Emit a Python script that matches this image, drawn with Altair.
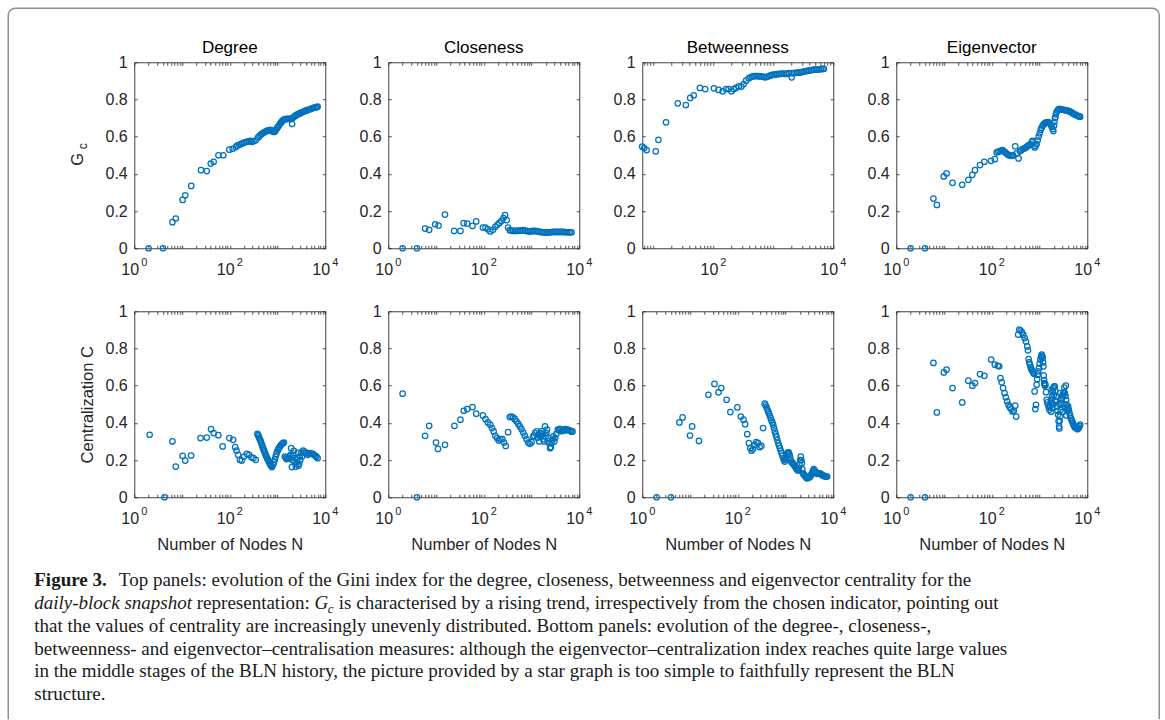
import math
import altair as alt
import pandas as pd

BLUE = "#0072BD"
AX = "#262626"
SANS = "Liberation Sans"
SERIF = "Liberation Serif"
W, H = 191, 186

# ---------------- data ----------------
# Top row: Gini index G_c versus number of nodes N
deg_gini_N = [2, 4, 6.3, 7.4, 10.3, 11.7, 15.6, 25, 33, 40, 46, 58, 73, 98, 115, 135, 145, 158, 171, 185, 200,
              217, 235, 255, 275, 290, 313, 350, 392, 420, 445, 475, 506, 540, 574, 610, 653, 700, 741, 790,
              842, 880, 927, 970, 1020, 1070, 1122, 1180, 1236, 1300, 1360, 1450, 1545, 1650, 1755, 1870,
              1995, 2026, 2130, 2265, 2420, 2575, 2750, 2925, 3120, 3325, 3550, 3777, 4030, 4295, 4580,
              4875, 5200, 5545, 5900, 6295, 6600, 6920]
deg_gini = [0, 0, 0.14, 0.16, 0.26, 0.285, 0.335, 0.42, 0.415, 0.455, 0.465, 0.50, 0.50, 0.53, 0.535, 0.545,
            0.553, 0.556, 0.56, 0.564, 0.568, 0.571, 0.573, 0.576, 0.578, 0.572, 0.575, 0.58, 0.596, 0.603,
            0.61, 0.616, 0.621, 0.625, 0.629, 0.632, 0.634, 0.636, 0.634, 0.628, 0.625, 0.628, 0.636, 0.645,
            0.652, 0.66, 0.668, 0.675, 0.682, 0.687, 0.691, 0.694, 0.695, 0.696, 0.696, 0.696, 0.696, 0.668,
            0.703, 0.709, 0.714, 0.718, 0.722, 0.725, 0.729, 0.732, 0.735, 0.738, 0.741, 0.743, 0.746, 0.748,
            0.751, 0.754, 0.756, 0.757, 0.759, 0.761]

clo_gini_N = [2, 4, 5.9, 7.2, 9.6, 11.3, 15.4, 24, 32.5, 38, 45, 58, 69.5, 96, 109, 122, 137, 156, 175, 193,
              212, 234, 258, 279, 303, 323, 351, 380, 412, 448, 485, 525, 570, 620, 670, 725, 787, 855, 925,
              1005, 1088, 1180, 1280, 1390, 1503, 1630, 1770, 1920, 2080, 2260, 2445, 2650, 2875, 3120, 3380,
              3670, 3975, 4310, 4675, 5070, 5495, 5960, 6460, 6900]
clo_gini = [0, 0, 0.106, 0.099, 0.129, 0.122, 0.181, 0.093, 0.093, 0.135, 0.133, 0.12, 0.144, 0.111, 0.111,
            0.102, 0.09, 0.099, 0.115, 0.126, 0.136, 0.147, 0.162, 0.178, 0.151, 0.111, 0.097, 0.095, 0.093,
            0.094, 0.093, 0.095, 0.094, 0.096, 0.097, 0.095, 0.093, 0.091, 0.09, 0.092, 0.093, 0.093, 0.092,
            0.09, 0.088, 0.087, 0.086, 0.085, 0.084, 0.085, 0.086, 0.087, 0.088, 0.088, 0.088, 0.088, 0.088,
            0.088, 0.088, 0.087, 0.086, 0.086, 0.086, 0.086]

bet_gini_N = [6.5, 7.0, 7.7, 10.9, 12.1, 16.2, 25.4, 34.7, 41, 47, 59.5, 73, 102, 122, 143, 162, 180, 200, 218,
              239, 265, 294, 321, 352, 389, 415, 443, 470, 504, 540, 573, 610, 652, 695, 741, 790, 843, 900,
              959, 1020, 1091, 1165, 1241, 1325, 1412, 1505, 1604, 1710, 1825, 2023, 2075, 2210, 2360, 2520,
              2685, 2865, 3055, 3260, 3475, 3710, 3955, 4220, 4500, 4800, 5115, 5450, 5810, 6200, 6610, 7000]
bet_gini = [0.546, 0.539, 0.528, 0.521, 0.583, 0.677, 0.779, 0.77, 0.808, 0.822, 0.862, 0.856, 0.86, 0.851,
            0.844, 0.856, 0.856, 0.844, 0.856, 0.862, 0.871, 0.869, 0.883, 0.901, 0.914, 0.919, 0.923, 0.925,
            0.926, 0.926, 0.925, 0.924, 0.923, 0.921, 0.919, 0.922, 0.926, 0.929, 0.932, 0.933, 0.934, 0.936,
            0.937, 0.938, 0.939, 0.938, 0.937, 0.939, 0.941, 0.919, 0.941, 0.942, 0.943, 0.944, 0.944, 0.946,
            0.948, 0.95, 0.952, 0.954, 0.955, 0.957, 0.959, 0.96, 0.96, 0.961, 0.962, 0.963, 0.964, 0.965]

eig_gini_N = [2, 4, 6.0, 7.1, 9.9, 11.3, 15.1, 24.1, 32.3, 39.2, 44.6, 56.8, 70.1, 96.8, 116, 127, 137, 147,
              158, 168, 180, 191, 204, 217, 232, 247, 264, 281, 310, 331, 364, 389, 415, 442, 472, 503, 537,
              573, 611, 652, 685, 718, 791, 830, 871, 915, 960, 1008, 1058, 1110, 1166, 1225, 1285, 1350,
              1416, 1488, 1560, 1640, 1719, 1805, 1894, 1950, 2019, 2060, 2100, 2153, 2200, 2260, 2373, 2490,
              2615, 2790, 2977, 3180, 3388, 3615, 3856, 4115, 4388, 4680, 4994, 5330, 5683, 6060, 6467, 6800,
              7124]
eig_gini = [0, 0, 0.267, 0.233, 0.386, 0.402, 0.352, 0.341, 0.368, 0.395, 0.42, 0.447, 0.465, 0.47, 0.479,
            0.515, 0.519, 0.521, 0.525, 0.528, 0.521, 0.515, 0.509, 0.503, 0.5, 0.497, 0.498, 0.499, 0.548,
            0.51, 0.483, 0.521, 0.527, 0.533, 0.536, 0.539, 0.545, 0.551, 0.555, 0.56, 0.57, 0.578, 0.542,
            0.55, 0.56, 0.58, 0.6, 0.618, 0.636, 0.648, 0.659, 0.666, 0.671, 0.675, 0.677, 0.678, 0.677,
            0.672, 0.664, 0.652, 0.641, 0.63, 0.659, 0.68, 0.7, 0.704, 0.72, 0.73, 0.74, 0.746, 0.749, 0.747,
            0.745, 0.744, 0.743, 0.741, 0.74, 0.737, 0.734, 0.73, 0.725, 0.721, 0.718, 0.714, 0.711, 0.709,
            0.707]

# Bottom row: centralization C versus number of nodes N
deg_cent_N = [2.1, 4.3, 6.3, 7.4, 10.3, 11.7, 15.5, 24.4, 33, 40.6, 46, 57.7, 71, 98, 118, 130, 139, 150, 163,
              179, 200, 228, 255, 285, 313, 350, 379, 392, 404, 417, 431, 445, 459, 474, 490, 505, 521, 538,
              556, 574, 593, 612, 632, 652, 673, 695, 718, 742, 766, 805, 843, 878, 913, 950, 988, 1028, 1070,
              1115, 1160, 1207, 1256, 1308, 1361, 1427, 1490, 1545, 1635, 1727, 1800, 1871, 1932, 1995, 2050,
              2128, 2200, 2266, 2350, 2417, 2500, 2576, 2650, 2747, 2850, 2926, 3000, 3120, 3300, 3435, 3600,
              3841, 4000, 4293, 4500, 4878, 5200, 5543, 5800, 6196, 6500, 6929]
deg_cent = [0.336, 0, 0.30, 0.165, 0.223, 0.197, 0.224, 0.318, 0.321, 0.366, 0.345, 0.334, 0.273, 0.318, 0.309,
            0.269, 0.251, 0.228, 0.201, 0.197, 0.219, 0.233, 0.228, 0.215, 0.21, 0.201, 0.341, 0.334, 0.327,
            0.318, 0.309, 0.3, 0.291, 0.28, 0.269, 0.26, 0.251, 0.242, 0.233, 0.224, 0.215, 0.208, 0.201,
            0.194, 0.187, 0.18, 0.174, 0.168, 0.162, 0.175, 0.187, 0.203, 0.219, 0.233, 0.246, 0.256, 0.264,
            0.271, 0.278, 0.283, 0.287, 0.291, 0.294, 0.219, 0.212, 0.205, 0.208, 0.21, 0.22, 0.228, 0.264,
            0.162, 0.2, 0.228, 0.25, 0.192, 0.21, 0.165, 0.18, 0.201, 0.24, 0.169, 0.18, 0.219, 0.2, 0.237,
            0.22, 0.251, 0.245, 0.237, 0.24, 0.228, 0.235, 0.237, 0.235, 0.232, 0.228, 0.223, 0.218, 0.21]

clo_cent_N = [2, 4, 5.9, 7.2, 10, 11, 15.4, 24.3, 32.5, 38.2, 44.9, 58.2, 69.5, 96, 109, 122, 137, 149, 161, 175,
              190, 206, 223, 246, 266, 289, 324, 351, 380, 412, 447, 485, 526, 570, 618, 670, 726, 788, 854,
              926, 1004, 1089, 1130, 1181, 1280, 1330, 1388, 1450, 1505, 1560, 1632, 1700, 1769, 1850, 1918,
              1982, 2050, 2115, 2180, 2256, 2350, 2446, 2550, 2652, 2750, 2876, 3000, 3118, 3300, 3550, 3750,
              3975, 4200, 4455, 4800, 5070, 5400, 5770, 6200, 6565, 6900, 7230]
clo_cent = [0.557, 0, 0.33, 0.384, 0.294, 0.26, 0.282, 0.384, 0.417, 0.465, 0.474, 0.485, 0.449, 0.44, 0.42,
            0.402, 0.39, 0.372, 0.354, 0.33, 0.318, 0.305, 0.312, 0.312, 0.294, 0.276, 0.35, 0.431, 0.434,
            0.429, 0.42, 0.408, 0.395, 0.381, 0.366, 0.348, 0.33, 0.312, 0.294, 0.287, 0.296, 0.327, 0.33,
            0.345, 0.354, 0.32, 0.336, 0.3, 0.345, 0.33, 0.354, 0.34, 0.312, 0.3, 0.381, 0.327, 0.345, 0.363,
            0.3, 0.318, 0.29, 0.264, 0.27, 0.291, 0.31, 0.327, 0.3, 0.318, 0.34, 0.363, 0.36, 0.368, 0.355,
            0.359, 0.36, 0.366, 0.36, 0.363, 0.36, 0.357, 0.352, 0.354]

bet_cent_N = [2, 4, 6, 7, 10, 11.1, 15.4, 24.3, 32.5, 39.5, 45, 58.5, 70, 98, 116, 132, 143, 158, 171, 183, 195,
              208, 226, 245, 266, 288, 312, 339, 368, 383, 399, 416, 433, 451, 469, 489, 509, 530, 552, 575,
              599, 624, 650, 677, 705, 734, 764, 796, 829, 863, 899, 930, 960, 990, 1025, 1060, 1094, 1130,
              1167, 1205, 1245, 1290, 1330, 1375, 1419, 1465, 1514, 1565, 1616, 1670, 1726, 1780, 1841, 1900,
              1964, 2030, 2098, 2150, 2203, 2250, 2312, 2390, 2467, 2550, 2633, 2720, 2810, 2930, 3049, 3180,
              3306, 3440, 3586, 3730, 3889, 4050, 4218, 4400, 4575, 4770, 4962, 5170, 5382, 5600, 5838, 6080,
              6332, 6600, 6868, 7150, 7449]
bet_cent = [0, 0, 0.402, 0.429, 0.332, 0.381, 0.303, 0.551, 0.609, 0.564, 0.587, 0.524, 0.458, 0.483, 0.434,
            0.417, 0.393, 0.339, 0.291, 0.264, 0.25, 0.259, 0.282, 0.296, 0.291, 0.269, 0.276, 0.372, 0.503,
            0.494, 0.485, 0.473, 0.461, 0.45, 0.438, 0.425, 0.413, 0.402, 0.39, 0.372, 0.354, 0.338, 0.323,
            0.307, 0.291, 0.277, 0.264, 0.25, 0.237, 0.223, 0.21, 0.2, 0.192, 0.205, 0.219, 0.225, 0.237,
            0.24, 0.241, 0.232, 0.219, 0.2, 0.189, 0.185, 0.183, 0.178, 0.174, 0.168, 0.162, 0.156, 0.151,
            0.147, 0.144, 0.155, 0.174, 0.2, 0.219, 0.2, 0.183, 0.15, 0.129, 0.124, 0.12, 0.115, 0.111, 0.106,
            0.102, 0.104, 0.106, 0.108, 0.111, 0.12, 0.129, 0.14, 0.151, 0.145, 0.138, 0.13, 0.126, 0.127,
            0.129, 0.128, 0.126, 0.123, 0.12, 0.117, 0.115, 0.113, 0.111, 0.111, 0.111]

eig_cent_N = [2, 4, 6, 7.1, 9.9, 11.3, 15.1, 24.1, 32.3, 39.2, 44.6, 56.8, 70, 97, 116, 134, 143, 152, 162, 173,
              185, 197, 210, 224, 239, 255, 272, 290, 310, 325, 358, 376, 401, 428, 457, 488, 520, 555, 573,
              592, 611, 631, 652, 673, 695, 718, 742, 766, 791, 817, 844, 871, 893, 915, 945, 976, 1008, 1042,
              1077, 1112, 1140, 1166, 1185, 1205, 1224, 1245, 1265, 1270, 1296, 1300, 1328, 1370, 1417, 1464,
              1512, 1560, 1612, 1665, 1719, 1750, 1775, 1800, 1833, 1850, 1893, 1950, 1955, 2000, 2020, 2085,
              2100, 2150, 2224, 2280, 2335, 2390, 2451, 2510, 2574, 2600, 2620, 2640, 2680, 2703, 2770, 2838,
              2908, 2979, 3075, 3100, 3177, 3200, 3280, 3300, 3388, 3450, 3500, 3550, 3613, 3650, 3700, 3795,
              3890, 3984, 4115, 4249, 4390, 4531, 4680, 4832, 4990, 5153, 5320, 5496, 5675, 5861, 6050, 6251,
              6455, 6666, 6880, 7109]
eig_cent = [0, 0, 0.722, 0.456, 0.671, 0.686, 0.587, 0.51, 0.627, 0.6, 0.614, 0.662, 0.653, 0.74, 0.713, 0.707,
            0.704, 0.641, 0.618, 0.587, 0.56, 0.537, 0.515, 0.497, 0.483, 0.474, 0.461, 0.465, 0.492, 0.434,
            0.874, 0.901, 0.896, 0.887, 0.874, 0.856, 0.838, 0.811, 0.79, 0.743, 0.725, 0.713, 0.7, 0.689,
            0.683, 0.677, 0.67, 0.664, 0.569, 0.474, 0.497, 0.605, 0.635, 0.659, 0.677, 0.695, 0.718, 0.74,
            0.755, 0.767, 0.76, 0.749, 0.725, 0.704, 0.655, 0.63, 0.614, 0.61, 0.61, 0.6, 0.605, 0.565, 0.524,
            0.51, 0.497, 0.485, 0.47, 0.49, 0.506, 0.46, 0.525, 0.58, 0.542, 0.48, 0.565, 0.5, 0.587, 0.55,
            0.595, 0.596, 0.52, 0.57, 0.542, 0.515, 0.488, 0.465, 0.443, 0.41, 0.381, 0.37, 0.5, 0.41, 0.56,
            0.434, 0.47, 0.506, 0.525, 0.542, 0.552, 0.46, 0.56, 0.5, 0.562, 0.59, 0.56, 0.48, 0.545, 0.6,
            0.524, 0.44, 0.5, 0.47, 0.48, 0.488, 0.47, 0.452, 0.438, 0.425, 0.415, 0.408, 0.398, 0.39, 0.383,
            0.377, 0.374, 0.372, 0.369, 0.366, 0.37, 0.375, 0.382, 0.39]

TITLES = ["Degree", "Closeness", "Betweenness", "Eigenvector"]
X_TITLE = "Number of Nodes N"
Y_TITLE_BOTTOM = "Centralization C"
Y_TITLE_TOP = ["G", "c"]
LABEL_N = [1, 100, 10000]
LABEL_EXP = ["0", "2", "4"]
Y_TICKS = [0, 0.2, 0.4, 0.6, 0.8, 1]
X_TICKS = [1, 2, 3, 4, 5, 6, 7, 8, 9, 10, 20, 30, 40, 50, 60, 70, 80, 90, 100, 200, 300, 400, 500, 600, 700,
           800, 900, 1000, 2000, 3000, 4000, 5000, 6000, 7000, 8000, 9000, 10000]

CAPTION_BOLD = "Figure 3."
CAPTION_L1 = ("Top panels: evolution of the Gini index for the degree, closeness, betweenness and "
              "eigenvector centrality for the")
CAPTION_L2 = ["daily-block snapshot", "representation:", "G", "c",
              "is characterised by a rising trend, irrespectively from the chosen indicator, pointing out"]
CAPTION_REST = [
    "that the values of centrality are increasingly unevenly distributed. Bottom panels: evolution of the degree-, closeness-,",
    "betweenness- and eigenvector\u2013centralisation measures: although the eigenvector\u2013centralization index reaches quite large values",
    "in the middle stages of the BLN history, the picture provided by a star graph is too simple to faithfully represent the BLN",
    "structure.",
]

# ---------------- layout helpers ----------------
ORIGIN_X, ORIGIN_Y = 133, 310      # top-left of bottom-left plot area on the page
CAP_SIZE = 19
CAP_X = 33 - ORIGIN_X
CAP_Y = 585 - ORIGIN_Y
CAP_STEP = 22.8
DUMMY = pd.DataFrame({"k": [0]})

# frame (open at the bottom edge of the picture)
FX0, FX1, FY0, FY1, FR = 7, 1158, 7, 719, 7


def inward():
    return {"expr": "-3"}


def caption_layers():
    F = CAP_SIZE
    lay = []

    def seg(text, x, line, size=F, style="normal", weight="normal", dy=0):
        return alt.Chart(DUMMY).mark_text(
            text=text, font=SERIF, fontSize=size, fontStyle=style, fontWeight=weight,
            align="left", baseline="alphabetic", color="#1a1a1a", dy=dy,
        ).encode(x=alt.value(CAP_X + x), y=alt.value(CAP_Y + line * CAP_STEP))

    lay.append(seg(CAPTION_BOLD, 0, 0, weight="bold"))
    lay.append(seg(CAPTION_L1, (3.833 + 0.62) * F, 0))
    offs = [0, 8.555, 14.748, 15.45, 16.03]
    lay.append(seg(CAPTION_L2[0], offs[0] * F, 1, style="italic"))
    lay.append(seg(CAPTION_L2[1], offs[1] * F, 1))
    lay.append(seg(CAPTION_L2[2], offs[2] * F, 1, style="italic"))
    lay.append(seg(CAPTION_L2[3], offs[3] * F, 1, size=F * 0.68, style="italic", dy=4))
    lay.append(seg(CAPTION_L2[4], offs[4] * F, 1))
    for i, t in enumerate(CAPTION_REST):
        lay.append(seg(t, 0, i + 2))

    w, h, r = FX1 - FX0, FY1 - FY0, FR
    arc = math.pi * r / 2
    dash = [(w - 2 * r) + arc + (h - r) - 1, w + 2, (h - r) - 1 + arc]
    border = alt.Chart(DUMMY).mark_rect(
        fillOpacity=0, stroke="#8f8f8f", strokeWidth=1.5, cornerRadiusTopLeft=r, cornerRadiusTopRight=r,
        strokeDash=dash,
    ).encode(x=alt.value(FX0 - ORIGIN_X), x2=alt.value(FX1 - ORIGIN_X),
             y=alt.value(FY0 - ORIGIN_Y), y2=alt.value(FY1 - ORIGIN_Y))
    lay.append(border)
    return lay


def gc_layers():
    g = alt.Chart(DUMMY).mark_text(text=Y_TITLE_TOP[0], font=SANS, fontSize=16.5, angle=270, color=AX,
                                   align="center", baseline="middle").encode(
        x=alt.value(-56), y=alt.value(97))
    c = alt.Chart(DUMMY).mark_text(text=Y_TITLE_TOP[1], font=SANS, fontSize=12, angle=270, color=AX,
                                   align="center", baseline="middle").encode(
        x=alt.value(-51), y=alt.value(84))
    return [g, c]


def panel(N, V, xmin=1, title=None, ytitle=None, xtitle=None, extra=()):
    df = pd.DataFrame({"N": N, "V": V})
    xs = alt.Scale(type="log", domain=[xmin, 10000])
    ys = alt.Scale(domain=[0, 1])
    xt = [t for t in X_TICKS if t >= xmin]
    common = dict(tickSize=inward(), tickColor=AX, tickWidth=0.8, domainColor=AX, domainWidth=0.8, grid=False)

    xaxis_kw = dict(values=xt, labels=False, **common)
    if xtitle:
        xaxis_kw.update(title=xtitle, titleFont=SANS, titleFontSize=16.5, titleFontWeight="normal",
                        titleColor=AX, titleX=W / 2, titleY=47, titleAlign="center", titleBaseline="middle")
    yaxis_kw = dict(values=Y_TICKS, format="~g", labelFont=SANS, labelFontSize=16, labelColor=AX,
                    labelPadding=10, **common)
    if ytitle:
        yaxis_kw.update(title=ytitle, titleFont=SANS, titleFontSize=16.5, titleFontWeight="normal",
                        titleColor=AX, titleAngle=270, titleX=-47, titleY=H / 2, titleAlign="center",
                        titleBaseline="middle")

    pts = alt.Chart(df).mark_point(filled=False, size=30, strokeWidth=1.25, color=BLUE, opacity=1).encode(
        x=alt.X("N:Q", scale=xs, axis=alt.Axis(**xaxis_kw), title=xtitle if xtitle else None),
        y=alt.Y("V:Q", scale=ys, axis=alt.Axis(**yaxis_kw), title=ytitle if ytitle else None),
    )
    mirror = alt.Chart(df).mark_point(opacity=0).encode(
        x=alt.X("N:Q", scale=xs, axis=alt.Axis(orient="top", values=xt, labels=False, **common), title=None),
        y=alt.Y("V:Q", scale=ys, axis=alt.Axis(orient="right", values=Y_TICKS, labels=False, **common),
                title=None),
    )
    lab = pd.DataFrame({"N": LABEL_N, "e": LABEL_EXP})
    lab = lab[lab["N"] >= xmin]
    base10 = alt.Chart(lab).mark_text(text="10", font=SANS, fontSize=16, color=AX, dx=-4,
                                      align="center", baseline="middle").encode(
        x=alt.X("N:Q", scale=xs, axis=None), y=alt.value(H + 22))
    expo = alt.Chart(lab).mark_text(font=SANS, fontSize=11, color=AX, dx=10,
                                    align="center", baseline="middle").encode(
        x=alt.X("N:Q", scale=xs, axis=None), y=alt.value(H + 14.5), text="e:N")
    ch = alt.layer(pts, mirror, base10, expo, *extra).resolve_axis(x="independent", y="independent")
    props = dict(width=W, height=H)
    if title:
        props["title"] = alt.TitleParams(text=title, font=SANS, fontSize=17, fontWeight="normal",
                                         color="#000000", offset=-3)
    return ch.properties(**props)


top = [
    panel(deg_gini_N, deg_gini, title=TITLES[0], extra=gc_layers()),
    panel(clo_gini_N, clo_gini, title=TITLES[1]),
    panel(bet_gini_N, bet_gini, xmin=6.5, title=TITLES[2]),
    panel(eig_gini_N, eig_gini, title=TITLES[3]),
]
bottom = [
    panel(deg_cent_N, deg_cent, ytitle=Y_TITLE_BOTTOM, xtitle=X_TITLE, extra=caption_layers()),
    panel(clo_cent_N, clo_cent, xtitle=X_TITLE),
    panel(bet_cent_N, bet_cent, xtitle=X_TITLE),
    panel(eig_cent_N, eig_cent, xtitle=X_TITLE),
]

chart = alt.concat(*top, *bottom, columns=4, spacing=63, bounds="flush").properties(
    padding={"left": 6.25, "top": 6.25, "right": 2, "bottom": 0}
).configure_view(strokeWidth=0).configure(background="white")

chart.save("out.html", embed_options={"renderer": "svg", "actions": False})
